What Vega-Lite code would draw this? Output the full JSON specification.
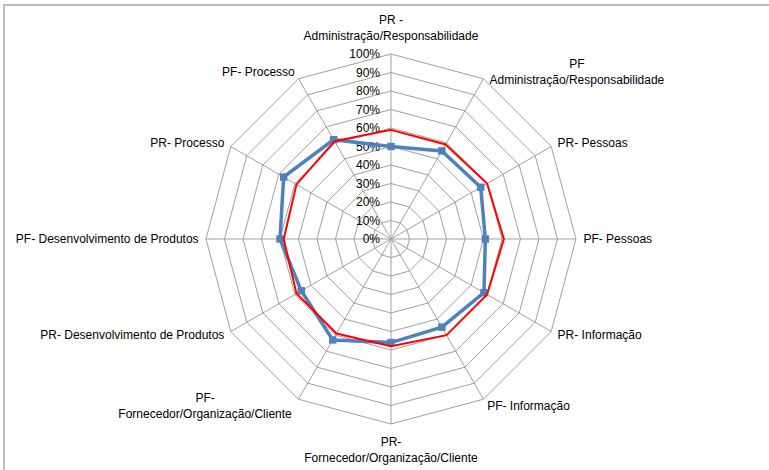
{
  "$schema": "https://vega.github.io/schema/vega-lite/v6.json",
  "width": 767,
  "height": 467,
  "padding": {"left": 4, "top": 5, "right": -2, "bottom": -2},
  "autosize": {"type": "none"},
  "background": "white",
  "config": {
    "view": {"stroke": "#a6a6a6", "strokeWidth": 1.5},
    "text": {"font": "Liberation Sans", "fontSize": 12, "color": "#000000"}
  },
  "datasets": {
    "axes": [
      {"idx": 0, "label": "PR -\nAdministração/Responsabilidade", "levels": [0,10,20,30,40,50,60,70,80,90,100]},
      {"idx": 1, "label": "PF\nAdministração/Responsabilidade", "levels": [0,10,20,30,40,50,60,70,80,90,100]},
      {"idx": 2, "label": "PR- Pessoas", "levels": [0,10,20,30,40,50,60,70,80,90,100]},
      {"idx": 3, "label": "PF- Pessoas", "levels": [0,10,20,30,40,50,60,70,80,90,100]},
      {"idx": 4, "label": "PR- Informação", "levels": [0,10,20,30,40,50,60,70,80,90,100]},
      {"idx": 5, "label": "PF- Informação", "levels": [0,10,20,30,40,50,60,70,80,90,100]},
      {"idx": 6, "label": "PR-\nFornecedor/Organização/Cliente", "levels": [0,10,20,30,40,50,60,70,80,90,100]},
      {"idx": 7, "label": "PF-\nFornecedor/Organização/Cliente", "levels": [0,10,20,30,40,50,60,70,80,90,100]},
      {"idx": 8, "label": "PR- Desenvolvimento de Produtos", "levels": [0,10,20,30,40,50,60,70,80,90,100]},
      {"idx": 9, "label": "PF- Desenvolvimento de Produtos", "levels": [0,10,20,30,40,50,60,70,80,90,100]},
      {"idx": 10, "label": "PR- Processo", "levels": [0,10,20,30,40,50,60,70,80,90,100]},
      {"idx": 11, "label": "PF- Processo", "levels": [0,10,20,30,40,50,60,70,80,90,100]}
    ],
    "series": [
      {"idx": 0, "serie": "Série 1", "value": 50},
      {"idx": 1, "serie": "Série 1", "value": 55},
      {"idx": 2, "serie": "Série 1", "value": 56},
      {"idx": 3, "serie": "Série 1", "value": 51},
      {"idx": 4, "serie": "Série 1", "value": 58},
      {"idx": 5, "serie": "Série 1", "value": 55},
      {"idx": 6, "serie": "Série 1", "value": 56},
      {"idx": 7, "serie": "Série 1", "value": 63},
      {"idx": 8, "serie": "Série 1", "value": 56},
      {"idx": 9, "serie": "Série 1", "value": 60},
      {"idx": 10, "serie": "Série 1", "value": 67},
      {"idx": 11, "serie": "Série 1", "value": 62},
      {"idx": 0, "serie": "Série 2", "value": 59},
      {"idx": 1, "serie": "Série 2", "value": 59},
      {"idx": 2, "serie": "Série 2", "value": 60},
      {"idx": 3, "serie": "Série 2", "value": 61},
      {"idx": 4, "serie": "Série 2", "value": 60},
      {"idx": 5, "serie": "Série 2", "value": 60},
      {"idx": 6, "serie": "Série 2", "value": 58},
      {"idx": 7, "serie": "Série 2", "value": 59},
      {"idx": 8, "serie": "Série 2", "value": 59},
      {"idx": 9, "serie": "Série 2", "value": 58},
      {"idx": 10, "serie": "Série 2", "value": 59},
      {"idx": 11, "serie": "Série 2", "value": 61}
    ]
  },
  "encoding": {
    "x": {"field": "x", "type": "quantitative", "scale": {"domain": [-209.19, 205.41], "nice": false, "zero": false}, "axis": null},
    "y": {"field": "y", "type": "quantitative", "scale": {"domain": [-125.95, 126.49], "nice": false, "zero": false}, "axis": null}
  },
  "layer": [
    {
      "data": {"name": "axes"},
      "transform": [
        {"flatten": ["levels"], "as": ["level"]},
        {"filter": "datum.level > 0"},
        {"calculate": "datum.level * sin(datum.idx * PI / 6)", "as": "x"},
        {"calculate": "datum.level * cos(datum.idx * PI / 6)", "as": "y"}
      ],
      "mark": {"type": "line", "interpolate": "linear-closed", "stroke": "#a0a0a0", "strokeWidth": 1},
      "encoding": {
        "detail": {"field": "level", "type": "nominal"},
        "order": {"field": "idx", "type": "quantitative"}
      }
    },
    {
      "data": {"name": "axes"},
      "transform": [
        {"calculate": "100 * sin(datum.idx * PI / 6)", "as": "x"},
        {"calculate": "100 * cos(datum.idx * PI / 6)", "as": "y"}
      ],
      "mark": {"type": "rule", "stroke": "#a0a0a0", "strokeWidth": 1},
      "encoding": {"x2": {"datum": 0}, "y2": {"datum": 0}}
    },
    {
      "data": {"name": "axes"},
      "transform": [
        {"filter": "datum.idx == 0"},
        {"flatten": ["levels"], "as": ["level"]},
        {"calculate": "0", "as": "x"},
        {"calculate": "datum.level", "as": "y"},
        {"calculate": "datum.level + '%'", "as": "t"}
      ],
      "mark": {"type": "text", "align": "right", "baseline": "middle", "dx": -11},
      "encoding": {"text": {"field": "t", "type": "nominal"}}
    },
    {
      "data": {"name": "series"},
      "transform": [
        {"filter": "datum.serie == 'Série 1'"},
        {"calculate": "datum.value * sin(datum.idx * PI / 6)", "as": "x"},
        {"calculate": "datum.value * cos(datum.idx * PI / 6)", "as": "y"}
      ],
      "mark": {"type": "line", "interpolate": "linear-closed", "stroke": "#4f81bd", "strokeWidth": 3.5},
      "encoding": {"order": {"field": "idx", "type": "quantitative"}}
    },
    {
      "data": {"name": "series"},
      "transform": [
        {"filter": "datum.serie == 'Série 1'"},
        {"calculate": "datum.value * sin(datum.idx * PI / 6)", "as": "x"},
        {"calculate": "datum.value * cos(datum.idx * PI / 6)", "as": "y"}
      ],
      "mark": {"type": "point", "shape": "square", "filled": true, "size": 55, "color": "#4f81bd", "opacity": 1}
    },
    {
      "data": {"name": "series"},
      "transform": [
        {"filter": "datum.serie == 'Série 2'"},
        {"calculate": "datum.value * sin(datum.idx * PI / 6)", "as": "x"},
        {"calculate": "datum.value * cos(datum.idx * PI / 6)", "as": "y"}
      ],
      "mark": {"type": "line", "interpolate": "linear-closed", "stroke": "#ff0000", "strokeWidth": 2},
      "encoding": {"order": {"field": "idx", "type": "quantitative"}}
    },
    {
      "data": {"name": "axes"},
      "transform": [
        {"filter": "datum.idx >= 2 && datum.idx <= 5"},
        {"calculate": "104 * sin(datum.idx * PI / 6)", "as": "x"},
        {"calculate": "104 * cos(datum.idx * PI / 6)", "as": "y"}
      ],
      "mark": {"type": "text", "align": "left", "baseline": "middle"},
      "encoding": {"text": {"field": "label", "type": "nominal"}}
    },
    {
      "data": {"name": "axes"},
      "transform": [
        {"filter": "datum.idx >= 8"},
        {"calculate": "104 * sin(datum.idx * PI / 6)", "as": "x"},
        {"calculate": "104 * cos(datum.idx * PI / 6)", "as": "y"}
      ],
      "mark": {"type": "text", "align": "right", "baseline": "middle"},
      "encoding": {"text": {"field": "label", "type": "nominal"}}
    },
    {
      "data": {"name": "axes"},
      "transform": [
        {"filter": "datum.idx == 0 || datum.idx == 1 || datum.idx == 6 || datum.idx == 7"},
        {"calculate": "datum.idx % 6 == 0 ? 114 : 104", "as": "r"},
        {"calculate": "datum.r * sin(datum.idx * PI / 6) + (datum.idx == 1 ? 48.5 : datum.idx == 7 ? -48.5 : 0)", "as": "x"},
        {"calculate": "datum.r * cos(datum.idx * PI / 6)", "as": "y"}
      ],
      "mark": {"type": "text", "align": "center", "baseline": "middle", "lineBreak": "\n", "lineHeight": 16, "dy": -8},
      "encoding": {"text": {"field": "label", "type": "nominal"}}
    }
  ]
}
